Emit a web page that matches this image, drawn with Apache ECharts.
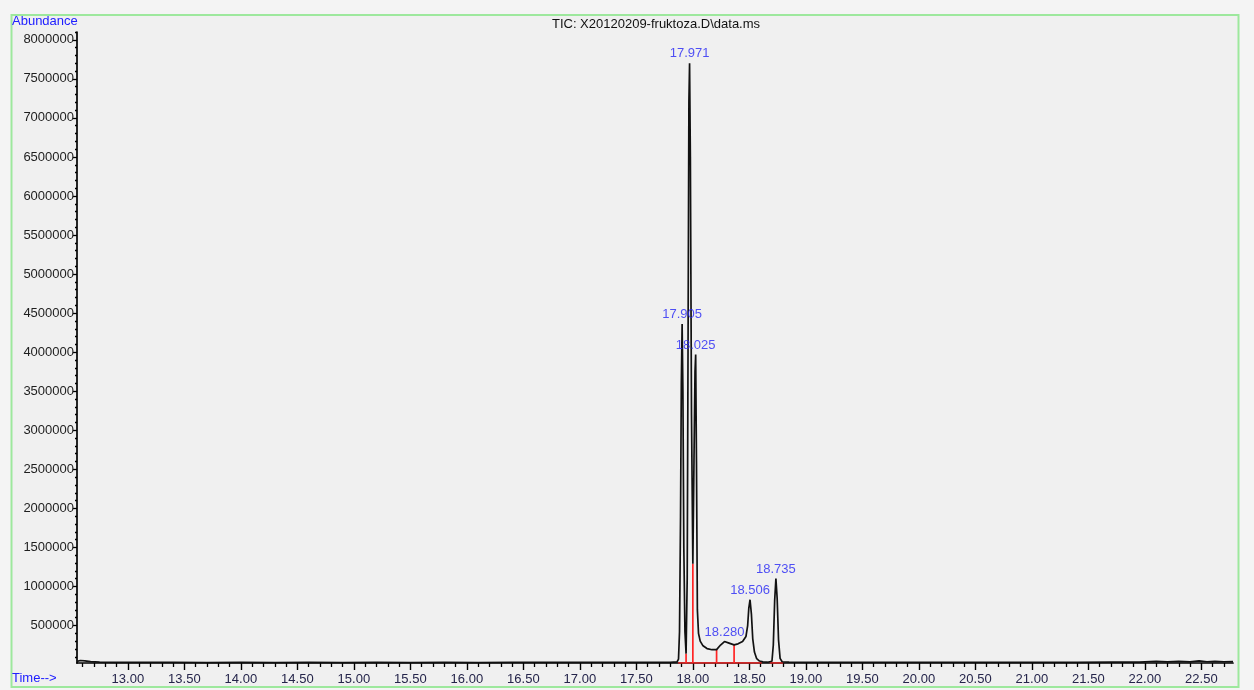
<!DOCTYPE html>
<html>
<head>
<meta charset="utf-8">
<title>TIC: X20120209-fruktoza.D\data.ms</title>
<script src="https://cdn.jsdelivr.net/npm/echarts@6/dist/echarts.min.js"></script>
<style>
  html, body { margin: 0; padding: 0; background: #f4f4f4; }
  #chart { width: 1254px; height: 690px; }
</style>
</head>
<body>
<div id="chart"></div>
<script>
// Total ion chromatogram: retention time (min) and abundance
const ticTime = [
  12.55, 12.58, 12.62, 12.67, 12.75, 12.90, 13.10, 13.40, 13.70, 14.00,
  14.30, 14.60, 14.90, 15.20, 15.50, 15.80, 16.10, 16.40, 16.70, 17.00,
  17.30, 17.60, 17.80, 17.860, 17.873, 17.882, 17.891, 17.898, 17.905, 17.912,
  17.920, 17.930, 17.940, 17.950, 17.958, 17.965, 17.971, 17.978, 17.988, 18.000,
  18.010, 18.019, 18.025, 18.032, 18.040, 18.050, 18.065, 18.090, 18.125, 18.170,
  18.210, 18.245, 18.280, 18.320, 18.365, 18.400, 18.440, 18.470, 18.485, 18.495,
  18.506, 18.518, 18.530, 18.545, 18.565, 18.590, 18.620, 18.660, 18.700, 18.712,
  18.724, 18.735, 18.746, 18.758, 18.772, 18.790, 18.850, 19.00, 19.30, 19.60,
  19.90, 20.20, 20.50, 20.80, 21.10, 21.40, 21.70, 21.95, 22.10, 22.20,
  22.30, 22.40, 22.48, 22.55, 22.62, 22.70, 22.78
];
const ticAbundance = [
  40000, 52000, 48000, 38000, 32000, 29000, 27000, 28000, 26000, 27000,
  26000, 27000, 26000, 27000, 26000, 27000, 26000, 27000, 27000, 28000,
  27000, 28000, 29000, 34000, 70000, 420000, 1900000, 3600000, 4360000, 3500000,
  1500000, 420000, 140000, 1100000, 4300000, 7200000, 7700000, 6500000, 3200000, 1290000,
  2600000, 3750000, 3970000, 2600000, 700000, 400000, 300000, 240000, 205000, 190000,
  192000, 250000, 295000, 275000, 252000, 265000, 295000, 360000, 500000, 720000,
  830000, 650000, 330000, 160000, 75000, 45000, 34000, 30000, 42000, 250000,
  820000, 1100000, 850000, 320000, 80000, 36000, 30000, 28000, 27000, 28000,
  27000, 28000, 27000, 28000, 29000, 28000, 30000, 32000, 42000, 34000,
  40000, 34000, 46000, 36000, 42000, 36000, 38000
];

// Labelled peak apexes (retention times)
const peakTimes = [17.905, 17.971, 18.025, 18.280, 18.506, 18.735];

// Integration marks: drop lines at peak boundaries and baseline segments
const dropTimes = [17.940, 18.000, 18.210, 18.365];
const baselineStart = [17.870, 18.680];
const baselineEnd = [18.610, 18.800];

// Axis ticks and labels
const timeTicks = [13.0, 13.5, 14.0, 14.5, 15.0, 15.5, 16.0, 16.5, 17.0, 17.5,
  18.0, 18.5, 19.0, 19.5, 20.0, 20.5, 21.0, 21.5, 22.0, 22.5];
const abundanceTicks = [500000, 1000000, 1500000, 2000000, 2500000, 3000000, 3500000, 4000000,
  4500000, 5000000, 5500000, 6000000, 6500000, 7000000, 7500000, 8000000];
const timeMin = 12.55, timeMax = 22.78;
const abundanceMin = 20000, abundanceMax = 8100000;

function abundanceAt(t) {
  const i = ticTime.findIndex(v => Math.abs(v - t) < 1e-9);
  return ticAbundance[i];
}

// minor ticks: every 0.1 min and every 100000 counts
const minorTimeTicks = [];
for (let k = Math.ceil(timeMin * 10); k <= Math.floor(timeMax * 10); k++) {
  if (k % 5 !== 0) minorTimeTicks.push(k / 10);
}
const minorAbundanceTicks = [];
for (let k = 1; k <= 81; k++) {
  if (k % 5 !== 0) minorAbundanceTicks.push(k * 100000);
}

const font = "'Liberation Sans', Arial, sans-serif";
const red = '#ff2424';

const series = [];

// integration baselines
baselineStart.forEach((s, i) => {
  series.push({
    type: 'line', xAxisIndex: 0, yAxisIndex: 0, silent: true, symbol: 'none', z: 3,
    lineStyle: { color: red, width: 1.7 },
    data: [[s, abundanceMin], [baselineEnd[i], abundanceMin]]
  });
});
// drop lines
dropTimes.forEach(t => {
  series.push({
    type: 'line', xAxisIndex: 0, yAxisIndex: 0, silent: true, symbol: 'none', z: 3,
    lineStyle: { color: red, width: 1.7 },
    data: [[t, abundanceMin], [t, abundanceAt(t)]]
  });
});

// chromatogram trace
series.push({
  type: 'line', xAxisIndex: 0, yAxisIndex: 0, silent: true, symbol: 'none', z: 4,
  lineStyle: { color: '#111111', width: 1.7 },
  data: ticTime.map((t, i) => [t, ticAbundance[i]])
});

// peak retention time labels
series.push({
  type: 'scatter', xAxisIndex: 0, yAxisIndex: 0, silent: true, symbolSize: 0, z: 5,
  data: peakTimes.map(t => [t, abundanceAt(t)]),
  label: {
    show: true, position: 'top', distance: 3,
    formatter: p => p.value[0].toFixed(3),
    color: '#2626f5', fontSize: 13, fontFamily: font
  }
});

const chart = echarts.init(document.getElementById('chart'), null, { renderer: 'canvas' });
chart.setOption({
  animation: false,
  backgroundColor: '#f4f4f4',
  grid: { left: 77, right: 21, top: 32, bottom: 27 },
  xAxis: [
    {
      type: 'value', min: timeMin, max: timeMax,
      axisLine: { show: true, onZero: false, lineStyle: { color: '#000', width: 1.7 } },
      axisTick: { show: true, length: 7, customValues: timeTicks, lineStyle: { color: '#000', width: 1.4 } },
      axisLabel: {
        customValues: timeTicks, margin: 10, color: '#24244a', fontSize: 13, fontFamily: font,
        formatter: v => Number(v).toFixed(2)
      },
      splitLine: { show: false }
    },
    {
      type: 'value', min: timeMin, max: timeMax, position: 'bottom', gridIndex: 0,
      axisLine: { show: false, onZero: false },
      axisTick: { show: true, length: 4, customValues: minorTimeTicks, lineStyle: { color: '#000', width: 1.3 } },
      axisLabel: { show: false },
      splitLine: { show: false }
    }
  ],
  yAxis: [
    {
      type: 'value', min: abundanceMin, max: abundanceMax,
      axisLine: { show: true, onZero: false, lineStyle: { color: '#000', width: 1.7 } },
      axisTick: { show: true, length: 4, customValues: abundanceTicks, lineStyle: { color: '#000', width: 1.3 } },
      axisLabel: {
        customValues: abundanceTicks, margin: 3,
        color: '#1e1e1e', fontSize: 13, fontFamily: font,
        formatter: v => String(v)
      },
      splitLine: { show: false }
    },
    {
      type: 'value', min: abundanceMin, max: abundanceMax, position: 'left', gridIndex: 0,
      axisLine: { show: false, onZero: false },
      axisTick: { show: true, length: 2, customValues: minorAbundanceTicks, lineStyle: { color: '#000', width: 1.3 } },
      axisLabel: { show: false },
      splitLine: { show: false }
    }
  ],
  graphic: [
    {
      type: 'rect', z: -10, silent: true,
      shape: { x: 11.5, y: 15, width: 1227, height: 672 },
      style: { fill: '#f0f0f0', stroke: '#9de89d', lineWidth: 2 }
    },
    {
      type: 'text', silent: true, x: 12, y: 21.5,
      style: { text: 'Abundance', fill: '#2020ff', font: '13px ' + font, textVerticalAlign: 'middle' }
    },
    {
      type: 'text', silent: true, x: 12, y: 678.5,
      style: { text: 'Time-->', fill: '#2020ff', font: '13px ' + font, textVerticalAlign: 'middle' }
    },
    {
      type: 'text', silent: true, x: 656, y: 24.5,
      style: { text: 'TIC: X20120209-fruktoza.D\\data.ms', fill: '#111', font: '13px ' + font,
        textAlign: 'center', textVerticalAlign: 'middle' }
    }
  ],
  series: series
});
</script>
</body>
</html>
